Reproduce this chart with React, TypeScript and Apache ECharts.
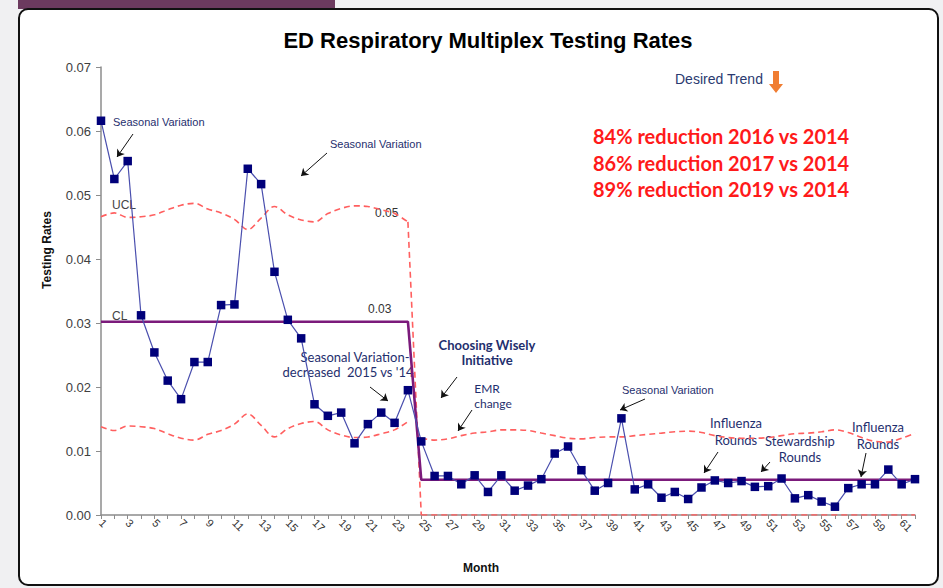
import React, { useEffect, useRef } from "react";
import * as echarts from "echarts";

const months: string[] = Array.from({ length: 62 }, (_, i) => String(i + 1));

const testingRates: number[] = [
  0.0616, 0.0525, 0.0553, 0.0312, 0.0254, 0.021, 0.0181, 0.0239, 0.0239, 0.0328,
  0.0329, 0.0541, 0.0517, 0.038, 0.0305, 0.0276, 0.0173, 0.0155, 0.016, 0.0112,
  0.0142, 0.016, 0.0144, 0.0195, 0.0115, 0.0061, 0.0061, 0.0048, 0.0062, 0.0036,
  0.0062, 0.0038, 0.0046, 0.0056, 0.0096, 0.0107, 0.007, 0.0038, 0.005, 0.0151,
  0.004, 0.0048, 0.0027, 0.0036, 0.0025, 0.0043, 0.0054, 0.005, 0.0053, 0.0044,
  0.0045, 0.0057, 0.0026, 0.0031, 0.0021, 0.0013, 0.0042, 0.0048, 0.0048, 0.0071,
  0.0048, 0.0056,
];

// phase 1 = months 1-24, phase 2 = months 25-62
const phase1Length = 24;
const centerLinePhase1 = 0.0302;
const centerLinePhase2 = 0.0055;

const uclPhase1: number[] = [
  0.0466, 0.0472, 0.0465, 0.0466, 0.0469, 0.0477, 0.0484, 0.0487, 0.0478, 0.0472,
  0.0462, 0.0446, 0.0464, 0.0482, 0.0469, 0.0461, 0.0458, 0.0471, 0.0479, 0.0483,
  0.0482, 0.0477, 0.0471, 0.0458,
];
const lclPhase1: number[] = [
  0.0138, 0.0132, 0.0139, 0.0138, 0.0135, 0.0127, 0.012, 0.0117, 0.0126, 0.0132,
  0.0142, 0.0158, 0.014, 0.0122, 0.0135, 0.0143, 0.0146, 0.0133, 0.0125, 0.0121,
  0.0122, 0.0127, 0.0133, 0.0146,
];
const uclPhase2: number[] = [
  0.012, 0.0117, 0.0119, 0.0124, 0.0128, 0.013, 0.0133, 0.0133, 0.0132, 0.0128,
  0.0124, 0.012, 0.0119, 0.0121, 0.0122, 0.0122, 0.0124, 0.0126, 0.0128, 0.013,
  0.0131, 0.0129, 0.0124, 0.0121, 0.012, 0.012, 0.0121, 0.0124, 0.0127, 0.0128,
  0.013, 0.0133, 0.0129, 0.0121, 0.0115, 0.0114, 0.012, 0.0128,
];
const lclPhase2Value = 0;

const yTicks = { min: 0, max: 0.07, interval: 0.01 };

const reductionLines: string[] = [
  "84% reduction 2016 vs 2014",
  "86% reduction 2017 vs 2014",
  "89% reduction 2019 vs 2014",
];

const NAVY = "#1f2f6e";

export default function App() {
  const ref = useRef<HTMLDivElement>(null);

  useEffect(() => {
    if (!ref.current) return;
    const chart = echarts.init(ref.current, undefined, { renderer: "svg" });

    const pad = (vals: number[], start: number) =>
      months.map((_, i) => (i >= start && i < start + vals.length ? vals[i - start] : "-"));

    const centerLine = months.map((_, i) => (i < phase1Length ? centerLinePhase1 : centerLinePhase2));
    const ucl1 = pad(uclPhase1, 0);
    const lcl1 = pad(lclPhase1, 0);
    const ucl2 = pad(uclPhase2, phase1Length);
    const lcl2 = months.map((_, i) => (i >= phase1Length ? lclPhase2Value : "-"));
    const drop = months.map((_, i) =>
      i === phase1Length - 1 ? uclPhase1[phase1Length - 1] : i === phase1Length ? lclPhase2Value : "-"
    );

    const dashed = { color: "#ff5f5f", width: 1.6, type: [6, 4] as any };

    const arrows: [number, number, number, number][] = [
      [133, 134, 117, 157],
      [327, 153, 301, 176],
      [370, 387, 388, 401],
      [457, 377, 441, 398],
      [472, 410, 458, 431],
      [645, 399, 620, 410],
      [718, 452, 704, 473],
      [770, 462, 761, 472],
      [866, 453, 861, 477],
    ];

    const txt = (
      text: string,
      x: number,
      y: number,
      font: string,
      fill: string,
      align: string = "left",
      rotation: number = 0
    ) => ({
      type: "text",
      x,
      y,
      rotation,
      silent: true,
      style: { text, font, fill, textAlign: align, textVerticalAlign: "middle" },
    });

    const smallFont = "11px 'Liberation Sans', Arial, sans-serif";
    const calFont = "13px Lato, sans-serif";
    const axisNameFont = "bold 12px 'Liberation Sans', Arial, sans-serif";

    chart.setOption({
      animation: false,
      backgroundColor: "transparent",
      title: {
        text: "ED Respiratory Multiplex Testing Rates",
        left: 483,
        top: 24,
        textAlign: "center",
        textStyle: {
          fontFamily: "'Liberation Sans', Arial, sans-serif",
          fontSize: 22,
          fontWeight: "bold",
          color: "#000",
        },
      },
      grid: { left: 101, right: 28, top: 67, bottom: 73, containLabel: false },
      xAxis: {
        type: "category",
        data: months,
        boundaryGap: false,
        axisLine: { lineStyle: { color: "#8c8c8c", width: 1.5 } },
        axisTick: { show: true, interval: 0, length: 4, lineStyle: { color: "#8c8c8c" } },
        axisLabel: {
          interval: 1,
          rotate: -45,
          fontFamily: "'Liberation Sans', Arial, sans-serif",
          fontSize: 11,
          color: "#333",
          margin: 6,
        },
        splitLine: { show: false },
      },
      yAxis: {
        type: "value",
        min: yTicks.min,
        max: yTicks.max,
        interval: yTicks.interval,
        axisLine: { show: true, lineStyle: { color: "#8c8c8c", width: 1.5 } },
        axisTick: { show: true, length: 5, lineStyle: { color: "#8c8c8c" } },
        axisLabel: {
          formatter: (v: number) => v.toFixed(2),
          fontFamily: "'Liberation Sans', Arial, sans-serif",
          fontSize: 13,
          color: "#404040",
          margin: 10,
        },
        splitLine: { show: false },
      },
      series: [
        { name: "UCL1", type: "line", data: ucl1, smooth: 0.35, symbol: "none", lineStyle: dashed, silent: true },
        { name: "LCL1", type: "line", data: lcl1, smooth: 0.35, symbol: "none", lineStyle: dashed, silent: true },
        { name: "Drop", type: "line", data: drop, symbol: "none", lineStyle: dashed, silent: true },
        { name: "UCL2", type: "line", data: ucl2, smooth: 0.35, symbol: "none", lineStyle: dashed, silent: true },
        { name: "LCL2", type: "line", data: lcl2, symbol: "none", lineStyle: dashed, silent: true },
        {
          name: "CL",
          type: "line",
          data: centerLine,
          symbol: "none",
          lineStyle: { color: "#7b1a7b", width: 2.6 },
          silent: true,
        },
        {
          name: "Testing Rates",
          type: "line",
          data: testingRates,
          symbol: "rect",
          symbolSize: 8.5,
          itemStyle: { color: "#00007a" },
          lineStyle: { color: "#4a4fae", width: 1.2 },
          silent: true,
          markLine: {
            silent: true,
            symbol: ["none", "arrow"],
            symbolSize: 7,
            label: { show: false },
            lineStyle: { color: "#111", width: 1, type: "solid" },
            data: arrows.map(([x1, y1, x2, y2]) => [
              { x: x1, y: y1 },
              { x: x2, y: y2 },
            ]),
          },
        },
      ],
      graphic: [
        txt("Testing Rates", 47, 250, axisNameFont, "#111", "center", Math.PI / 2),
        txt("Month", 481, 568, axisNameFont, "#111", "center"),
        txt("UCL", 112, 205, "12px 'Liberation Sans', Arial, sans-serif", "#444"),
        txt("CL", 112, 316, "12px 'Liberation Sans', Arial, sans-serif", "#444"),
        txt("0.05", 375, 213, "12px 'Liberation Sans', Arial, sans-serif", "#333"),
        txt("0.03", 368, 309, "12px 'Liberation Sans', Arial, sans-serif", "#333"),
        txt("Seasonal Variation", 113, 122, smallFont, NAVY),
        txt("Seasonal Variation", 330, 144, smallFont, NAVY),
        txt("Seasonal Variation", 622, 390, smallFont, NAVY),
        txt("Seasonal Variation-", 355, 357, calFont, NAVY, "center"),
        txt("decreased  2015 vs '14", 348, 372, calFont, NAVY, "center"),
        txt("Choosing Wisely", 487, 345, "bold 13px Lato, sans-serif", NAVY, "center"),
        txt("Initiative", 487, 360, "bold 13px Lato, sans-serif", NAVY, "center"),
        txt("EMR", 487, 388, "12px Lato, sans-serif", NAVY, "center"),
        txt("change", 493, 403, "12px Lato, sans-serif", NAVY, "center"),
        txt("Influenza", 736, 423, calFont, NAVY, "center"),
        txt("Rounds", 736, 440, calFont, NAVY, "center"),
        txt("Stewardship", 800, 441, calFont, NAVY, "center"),
        txt("Rounds", 800, 457, calFont, NAVY, "center"),
        txt("Influenza", 878, 427, calFont, NAVY, "center"),
        txt("Rounds", 878, 444, calFont, NAVY, "center"),
        txt("Desired Trend", 675, 79, "14px 'Liberation Sans', Arial, sans-serif", "#2a3a70"),
        {
          type: "polygon",
          silent: true,
          shape: {
            points: [
              [773, 71],
              [779, 71],
              [779, 84],
              [783, 84],
              [776, 93],
              [769, 84],
              [773, 84],
            ],
          },
          style: { fill: "#f07d32" },
        },
        ...reductionLines.map((t, i) =>
          txt(t, 593, 136 + i * 26.7, "bold 20px Lato, sans-serif", "#ff1a1a")
        ),
      ],
    });

    return () => chart.dispose();
  }, []);

  return (
    <div
      style={{
        position: "fixed",
        left: 0,
        top: 0,
        width: 943,
        height: 588,
        background: "#f0f0f2",
        overflow: "hidden",
      }}
    >
      <div
        style={{
          position: "absolute",
          left: 18,
          top: 0,
          width: 317,
          height: 9,
          background: "#6c3a5f",
        }}
      />
      <div
        style={{
          position: "absolute",
          left: 18,
          top: 8,
          width: 921,
          height: 578,
          background: "#fff",
          border: "2px solid #111",
          borderRadius: 10,
          boxSizing: "border-box",
        }}
      />
      <div ref={ref} style={{ position: "absolute", left: 0, top: 0, width: 943, height: 588 }} />
    </div>
  );
}
